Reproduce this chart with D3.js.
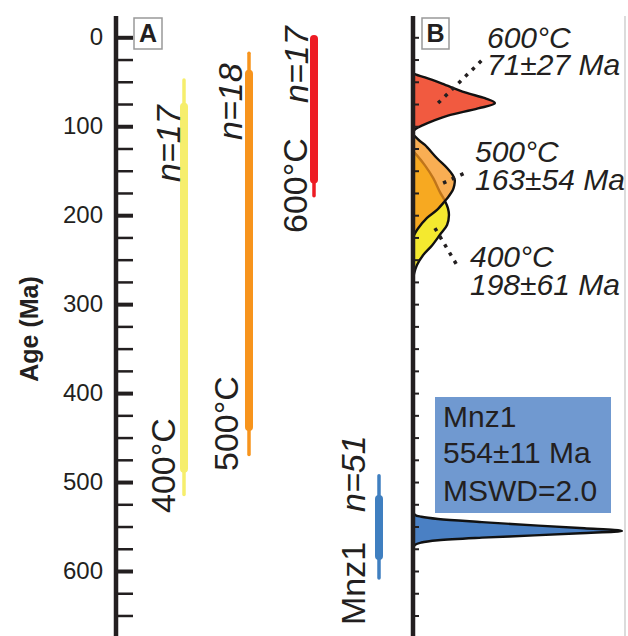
<!DOCTYPE html>
<html><head><meta charset="utf-8">
<script src="https://cdn.jsdelivr.net/npm/d3@7"></script>
<style>
html,body{margin:0;padding:0;background:#fff;}
svg{display:block;font-family:"Liberation Sans",Arial,sans-serif;}
</style></head>
<body>
<svg id="chart" width="628" height="636"></svg>
<script>
// ---------- data ----------
const categories = ["400°C", "500°C", "600°C", "Mnz1"];
const nLabels    = ["n=17", "n=18", "n=17", "n=51"];
const thinMin  = [48, 18, 2, 493];
const thinMax  = [514, 469, 178, 608];
const thickMin = [78, 41, 2, 519];
const thickMax = [485, 438, 160, 583];

const majorTicks = [0, 100, 200, 300, 400, 500, 600];
const minorTicks = [25, 50, 75, 125, 150, 175, 225, 250, 275, 325, 350, 375, 425, 450, 475, 525, 550, 575, 625, 650];
const bTicks = [0, 25, 50, 75, 100, 125, 150, 175, 200, 225, 250, 275, 300, 325, 350, 375, 400, 425, 450, 475, 500, 525, 550, 575, 600, 625, 650];

// density curves [age Ma, relative density]
const density600 = [[40,0],[42,0.015],[45,0.057],[52,0.139],[62,0.249],[68.5,0.344],[74,0.392],[80,0.311],[88,0.167],[93,0.105],[99,0.045],[103,0.012],[106,0]];
const density500 = [[109,0],[112,0.012],[116,0.03],[121,0.057],[136,0.115],[147,0.163],[155,0.19],[161,0.2],[167,0.197],[172,0.19],[180,0.167],[184,0.153],[194,0.115],[203,0.067],[215,0.024],[222,0.006],[226,0]];
const density400 = [[128,0],[133,0.02],[144,0.057],[158,0.096],[174,0.129],[184,0.153],[192,0.167],[200,0.172],[211,0.163],[222,0.129],[234,0.091],[245,0.048],[256,0.019],[265,0.006],[272,0]];
const densityMnz = [[533.5,0],[537,0.01],[539,0.04],[541.5,0.12],[545,0.33],[549,0.6],[552,0.82],[555,1.0],[557.5,0.8],[560,0.58],[562.5,0.33],[565.5,0.12],[568,0.04],[570.5,0.01],[574,0]];

const peakTemps = ["600°C", "500°C", "400°C"];
const peakAges  = ["71±27 Ma", "163±54 Ma", "198±61 Ma"];
// leader lines: [age, density] from -> to
const leaders = [
  [[74, 0.12], [22.5, 0.344]],
  [[164, 0.144], [151, 0.263]],
  [[214.5, 0.105], [258, 0.215]]
];
const mnzLines = ["Mnz1", "554±11 Ma", "MSWD=2.0"];

// ---------- styles / layout ----------
const thinColors = ["#f6ee6c", "#f7941d", "#ed1c24", "#3f7fc0"];
const ink = "#231f20";
const svg = d3.select("#chart");

const y = d3.scaleLinear().domain([0, 600]).range([37.3, 571]);
const xA = d3.scalePoint().domain(categories).range([184, 379]);
const xB = d3.scaleLinear().domain([0, 1]).range([413, 622]);
const axisAX = 116, axisBX = 413;

// right border of panel B
svg.append("line").attr("x1", 625).attr("x2", 625).attr("y1", y(-24)).attr("y2", 636)
  .attr("stroke", "#c4c4c4").attr("stroke-width", 1.2);

// ---------- panel A bars ----------
const gA = svg.append("g");
categories.forEach((c, i) => {
  gA.append("line").attr("x1", xA(c)).attr("x2", xA(c))
    .attr("y1", y(thinMin[i])).attr("y2", y(thinMax[i]))
    .attr("stroke", thinColors[i]).attr("stroke-width", 3.5).attr("stroke-linecap", "round");
  gA.append("line").attr("x1", xA(c)).attr("x2", xA(c))
    .attr("y1", y(thickMin[i])).attr("y2", y(thickMax[i]))
    .attr("stroke", thinColors[i]).attr("stroke-width", 8).attr("stroke-linecap", "round");
});

// rotated labels in panel A: [text, baselineX, startY, italic]
const rotLabels = [
  [nLabels[0], 180, 182, true], [categories[0], 175, 513, false],
  [nLabels[1], 242, 140, true], [categories[1], 238, 471, false],
  [nLabels[2], 308, 103, true], [categories[2], 307, 233, false],
  [nLabels[3], 365, 512, true], [categories[3], 365, 625, false]
];
rotLabels.forEach(([t, bx, by, it]) => {
  svg.append("text").attr("transform", `translate(${bx},${by}) rotate(-90)`)
    .attr("font-size", 34).attr("fill", ink)
    .attr("font-style", it ? "italic" : "normal").text(t);
});

// ---------- left axis ----------
svg.append("line").attr("x1", axisAX).attr("x2", axisAX).attr("y1", y(-24)).attr("y2", 640)
  .attr("stroke", ink).attr("stroke-width", 4.5);
const gMaj = svg.append("g").attr("transform", `translate(${axisAX},0)`)
  .call(d3.axisRight(y).tickValues(majorTicks).tickSize(17).tickFormat(d => d));
gMaj.select(".domain").remove();
gMaj.selectAll(".tick line").attr("stroke", ink).attr("stroke-width", 4);
gMaj.selectAll(".tick text").attr("x", -13).attr("text-anchor", "end")
  .attr("font-size", 24).attr("fill", ink).attr("font-family", "Liberation Sans, Arial, sans-serif");
const gMin = svg.append("g").attr("transform", `translate(${axisAX},0)`)
  .call(d3.axisRight(y).tickValues(minorTicks).tickSize(17).tickFormat(""));
gMin.select(".domain").remove();
gMin.selectAll(".tick line").attr("stroke", ink).attr("stroke-width", 2.5);

svg.append("text").attr("transform", `translate(38,329) rotate(-90)`)
  .attr("text-anchor", "middle").attr("font-size", 25).attr("font-weight", "bold")
  .attr("fill", ink).text("Age (Ma)");

// ---------- panel B densities ----------
const area = d3.area().y(d => y(d[0])).x0(xB(0)).x1(d => xB(d[1]))
  .curve(d3.curveCatmullRom.alpha(0.5));
const outline = d3.line().y(d => y(d[0])).x(d => xB(d[1])).curve(d3.curveCatmullRom.alpha(0.5));
function drawDensity(data, fill, opacity) {
  svg.append("path").attr("d", area(data)).attr("fill", fill).attr("fill-opacity", opacity);
  svg.append("path").attr("d", outline(data)).attr("fill", "none")
    .attr("stroke", "#111").attr("stroke-width", 2.4);
}
drawDensity(density400, "#f4e92f", 1);
drawDensity(density500, "#f7941d", 0.76);
drawDensity(density600, "#f15a40", 1);
drawDensity(densityMnz, "#4a80c4", 1);

// leader lines
leaders.forEach(([a, b]) => {
  svg.append("line").attr("x1", xB(a[1])).attr("y1", y(a[0]))
    .attr("x2", xB(b[1])).attr("y2", y(b[0]))
    .attr("stroke", ink).attr("stroke-width", 3.5).attr("stroke-dasharray", "3.5,6");
});

// peak labels
const peakPos = [[487, 48, 75], [475, 162, 190], [470, 267, 295]];
peakTemps.forEach((t, i) => {
  const [px, b1, b2] = peakPos[i];
  svg.append("text").attr("x", px).attr("y", b1).attr("font-size", 30).attr("font-style", "italic")
    .attr("fill", ink).text(t);
  svg.append("text").attr("x", px).attr("y", b2).attr("font-size", 30).attr("font-style", "italic")
    .attr("fill", ink).text(peakAges[i]);
});

// Mnz1 box
svg.append("rect").attr("x", 435).attr("y", 397).attr("width", 176).attr("height", 116)
  .attr("fill", "#7099d0");
mnzLines.forEach((t, i) => {
  svg.append("text").attr("x", 443).attr("y", [427, 463, 501][i]).attr("font-size", 30)
    .attr("fill", ink).text(t);
});

// right (panel B) axis
svg.append("line").attr("x1", axisBX).attr("x2", axisBX).attr("y1", y(-24)).attr("y2", 640)
  .attr("stroke", ink).attr("stroke-width", 4.5);
const gB = svg.append("g").attr("transform", `translate(${axisBX},0)`)
  .call(d3.axisRight(y).tickValues(bTicks).tickSize(6).tickFormat(""));
gB.select(".domain").remove();
gB.selectAll(".tick line").attr("stroke", ink).attr("stroke-width", 2);

// panel letters
[["A", 134, 18, 28, 31], ["B", 422, 18, 27, 31]].forEach(([t, bx, by, w, h]) => {
  svg.append("rect").attr("x", bx).attr("y", by).attr("width", w).attr("height", h)
    .attr("fill", "#fff").attr("stroke", "#999").attr("stroke-width", 1.5);
  svg.append("text").attr("x", bx + w / 2).attr("y", by + 24).attr("text-anchor", "middle")
    .attr("font-size", 25).attr("font-weight", "bold").attr("fill", ink).text(t);
});
</script>
</body></html>
